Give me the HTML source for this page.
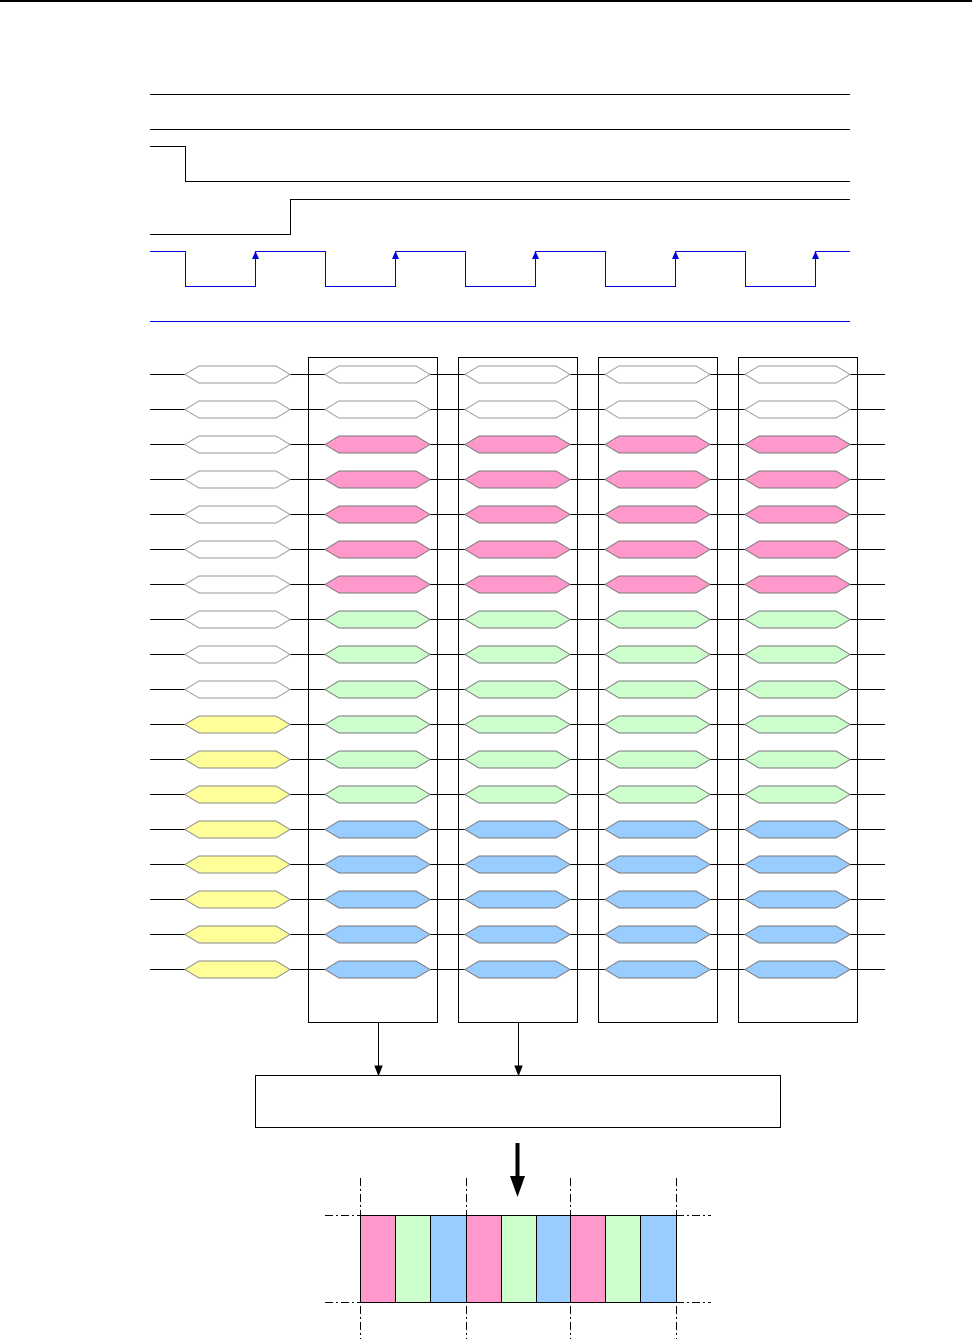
<!DOCTYPE html>
<html><head><meta charset="utf-8"><style>html,body{margin:0;padding:0;background:#fff}svg{display:block}</style></head>
<body>
<svg id="s" width="974" height="1339" viewBox="0 0 974 1339" xmlns="http://www.w3.org/2000/svg">
<line x1="0" y1="1" x2="972" y2="1" stroke="#000" stroke-width="2"/>
<g fill="none" stroke="#000" stroke-width="1">
<line x1="150" y1="94.5" x2="850" y2="94.5"/>
<line x1="150" y1="129.5" x2="850" y2="129.5"/>
<polyline points="150,146.5 185.5,146.5 185.5,181.5 850,181.5"/>
<polyline points="150,234.5 290.5,234.5 290.5,199.5 850,199.5"/>
</g>
<g fill="none" stroke="#0000dd" stroke-width="1">
<polyline points="150,251.5 185.5,251.5 185.5,286.5 255.5,286.5 255.5,251.5 325.5,251.5 325.5,286.5 395.5,286.5 395.5,251.5 465.5,251.5 465.5,286.5 535.5,286.5 535.5,251.5 605.5,251.5 605.5,286.5 675.5,286.5 675.5,251.5 745.5,251.5 745.5,286.5 815.5,286.5 815.5,251.5 850,251.5"/>
<line x1="150" y1="321.5" x2="850" y2="321.5"/>
</g>
<g fill="#0000dd">
<polygon points="255.5,251 252,259 259,259"/><polygon points="395.5,251 392,259 399,259"/><polygon points="535.5,251 532,259 539,259"/><polygon points="675.5,251 672,259 679,259"/><polygon points="815.5,251 812,259 819,259"/>
</g>
<g fill="none" stroke="#000">
<rect x="308.5" y="357.5" width="129" height="665"/>
<rect x="458.5" y="357.5" width="119" height="665"/>
<rect x="598.5" y="357.5" width="119" height="665"/>
<rect x="738.5" y="357.5" width="119" height="665"/>
</g>
<g id="rows"></g>
<g stroke="#000" fill="#000">
<line x1="378.5" y1="1022" x2="378.5" y2="1068"/><polygon points="378.5,1075 375,1066 382,1066"/>
<line x1="518.5" y1="1022" x2="518.5" y2="1068"/><polygon points="518.5,1075 515,1066 522,1066"/>
</g>
<rect x="255.5" y="1075.5" width="525" height="52" fill="none" stroke="#000"/>
<line x1="517.5" y1="1143" x2="517.5" y2="1180" stroke="#000" stroke-width="4"/>
<polygon points="517.5,1197 510,1176 525,1176" fill="#000"/>
<g stroke="#000">
<rect x="360.5" y="1215.5" width="35" height="87" fill="#ff99cc"/>
<rect x="395.5" y="1215.5" width="35" height="87" fill="#ccffcc"/>
<rect x="430.5" y="1215.5" width="36" height="87" fill="#99ccff"/>
<rect x="466.5" y="1215.5" width="35" height="87" fill="#ff99cc"/>
<rect x="501.5" y="1215.5" width="35" height="87" fill="#ccffcc"/>
<rect x="536.5" y="1215.5" width="34" height="87" fill="#99ccff"/>
<rect x="570.5" y="1215.5" width="35" height="87" fill="#ff99cc"/>
<rect x="605.5" y="1215.5" width="35" height="87" fill="#ccffcc"/>
<rect x="640.5" y="1215.5" width="36" height="87" fill="#99ccff"/>
</g>
<g stroke="#000" stroke-dasharray="8,3,2,3">
<line x1="360.5" y1="1178" x2="360.5" y2="1339"/>
<line x1="466.5" y1="1178" x2="466.5" y2="1339"/>
<line x1="570.5" y1="1178" x2="570.5" y2="1339"/>
<line x1="676.5" y1="1178" x2="676.5" y2="1339"/>
<line x1="325" y1="1215.5" x2="360" y2="1215.5"/><line x1="676" y1="1215.5" x2="711" y2="1215.5"/>
<line x1="325" y1="1302.5" x2="360" y2="1302.5"/><line x1="676" y1="1302.5" x2="711" y2="1302.5"/>
</g>
</svg>
<script>
var g=document.getElementById('rows'),h='';
function hex(x,y,w,f,st){return '<polygon points="'+x+','+y+' '+(x+14)+','+(y-8.5)+' '+(x+w-14)+','+(y-8.5)+' '+(x+w)+','+y+' '+(x+w-14)+','+(y+8.5)+' '+(x+14)+','+(y+8.5)+'" fill="'+f+'" stroke="'+st+'"/>';}
for(var i=0;i<18;i++){var y=374.5+35*i;
h+='<polyline points="150,'+y+' 185,'+y+'" stroke="#000" fill="none"/>';
[290,430,570,710].forEach(function(a){h+='<line x1="'+a+'" y1="'+y+'" x2="'+(a+35)+'" y2="'+y+'" stroke="#000"/>';});
h+='<line x1="850" y1="'+y+'" x2="885" y2="'+y+'" stroke="#000"/>';
var lf=i<10?'#fff':'#ffff99', ls=i<10?'#999':'#888';
h+=hex(185,y,105,lf,ls);
var f=i<2?'#fff':i<7?'#ff99cc':i<13?'#ccffcc':'#99ccff', s=i<2?'#999':'#777';
[325,465,605,745].forEach(function(x){h+=hex(x,y,105,f,s);});
}
g.innerHTML=h;
</script>
</body></html>
